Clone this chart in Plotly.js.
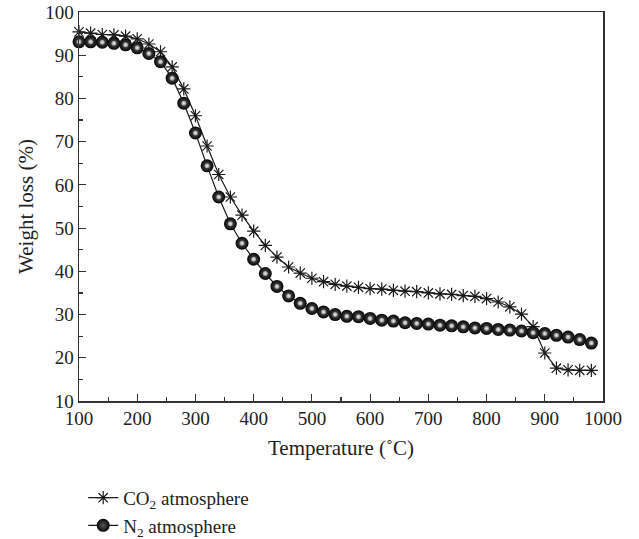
<!DOCTYPE html>
<html>
<head>
<meta charset="utf-8">
<script src="https://cdn.plot.ly/plotly-3.0.1.min.js"></script>
<style>html,body{margin:0;padding:0;background:#fff;}#chart{width:639px;height:539px;}</style>
</head>
<body>
<div id="chart"></div>
<script>
var temperature = [100,120,140,160,180,200,220,240,260,280,300,320,340,360,380,400,420,440,460,480,500,520,540,560,580,600,620,640,660,680,700,720,740,760,780,800,820,840,860,880,900,920,940,960,980];
var co2Weight = [95.4,95.1,94.8,94.7,94.4,93.8,92.6,90.8,87.3,82.2,76.0,69.0,62.4,57.2,53.0,49.3,46.0,43.3,41.0,39.6,38.4,37.6,37.0,36.6,36.3,36.0,35.9,35.6,35.4,35.3,35.0,34.8,34.65,34.4,34.2,33.7,32.9,31.8,30.1,27.2,21.1,17.6,17.2,17.1,17.1];
var n2Weight = [93.1,93.1,93.0,92.75,92.4,91.7,90.4,88.5,84.7,78.9,72.0,64.4,57.2,51.0,46.5,42.8,39.5,36.5,34.3,32.6,31.4,30.6,30.0,29.6,29.5,29.1,28.7,28.5,28.1,27.95,27.8,27.55,27.4,27.15,26.9,26.8,26.55,26.4,26.2,25.8,25.6,25.2,24.8,24.2,23.4];

var serif = "Liberation Serif, Times New Roman, serif";

var traces = [
  {
    x: temperature, y: co2Weight, type: 'scatter', mode: 'lines+markers',
    name: 'CO<sub>2</sub> atmosphere', cliponaxis: false,
    line: {color: '#1a1a1a', width: 1.2},
    marker: {symbol: 'asterisk-open', size: 11, color: '#1a1a1a', line: {color: '#1a1a1a', width: 1.2}}
  },
  {
    x: temperature, y: n2Weight, type: 'scatter', mode: 'lines+markers',
    name: 'N<sub>2</sub> atmosphere', cliponaxis: false,
    line: {color: '#1a1a1a', width: 1.2},
    marker: {symbol: 'circle', size: 13, color: '#050505',
      gradient: {type: 'radial', color: '#5a5a5a'},
      line: {width: 0}}
  },
  {
    x: temperature, y: n2Weight, type: 'scatter', mode: 'markers',
    showlegend: false, hoverinfo: 'skip', cliponaxis: false,
    marker: {symbol: 'circle', size: 5, color: '#8a8a8a',
      gradient: {type: 'radial', color: '#f4f4f4'},
      line: {width: 0}}
  }
];

var layout = {
  width: 639, height: 539,
  margin: {l: 79, r: 36, t: 12, b: 138, autoexpand: false},
  paper_bgcolor: '#fff', plot_bgcolor: '#fff',
  font: {family: serif, size: 19, color: '#222'},
  showlegend: true,
  legend: {x: 0.008, xanchor: 'left', y: -0.2, yanchor: 'top',
    font: {family: serif, size: 19, color: '#222'}, tracegroupgap: 0,
    bgcolor: 'rgba(0,0,0,0)'},
  xaxis: {
    range: [100, 1000], dtick: 100, tick0: 100,
    ticks: 'inside', ticklen: 7, tickwidth: 1.2, tickcolor: '#333',
    minor: {dtick: 50, ticks: 'inside', ticklen: 4, tickwidth: 1.2, tickcolor: '#333'},
    showline: true, linecolor: '#333', linewidth: 1.5, mirror: true,
    showgrid: false, zeroline: false,
    tickfont: {family: serif, size: 19, color: '#222'},
    title: {text: 'Temperature (˚C)', font: {family: serif, size: 21, color: '#222'}, standoff: 12}
  },
  yaxis: {
    range: [10, 100], dtick: 10, tick0: 10,
    ticks: 'inside', ticklen: 7, tickwidth: 1.2, tickcolor: '#333',
    minor: {dtick: 5, ticks: 'inside', ticklen: 4, tickwidth: 1.2, tickcolor: '#333'},
    showline: true, linecolor: '#333', linewidth: 1.5, mirror: true,
    showgrid: false, zeroline: false,
    tickfont: {family: serif, size: 19, color: '#222'},
    title: {text: 'Weight loss (%)', font: {family: serif, size: 21, color: '#222'}, standoff: 6}
  }
};

Plotly.newPlot('chart', traces, layout, {displayModeBar: false, staticPlot: true});
</script>
</body>
</html>
